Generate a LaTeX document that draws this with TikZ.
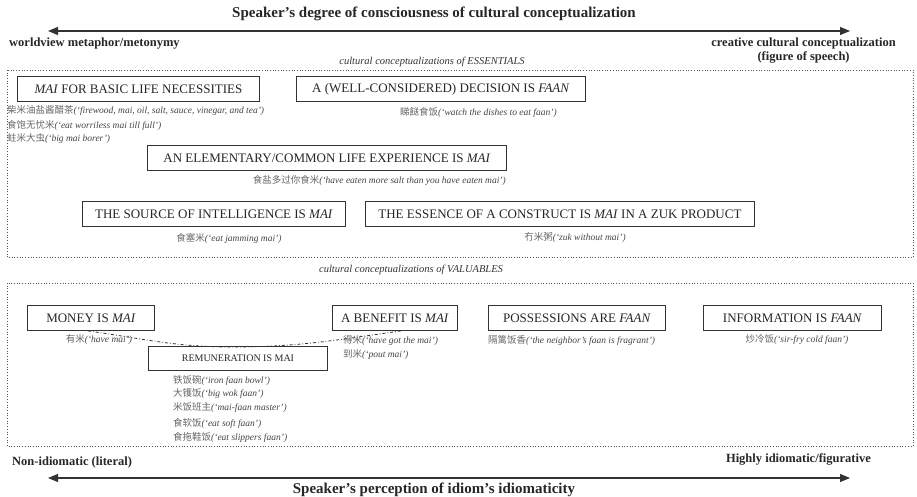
\documentclass[tikz,border=0pt]{standalone}
\usepackage{fontspec}
\setmainfont{Liberation Serif}
\newfontfamily\cjk{Noto Sans CJK SC}
\usetikzlibrary{arrows.meta}
\definecolor{boxline}{HTML}{333333}
\definecolor{exgray}{HTML}{444444}
\definecolor{cjkgray}{HTML}{666666}
\definecolor{dotgray}{HTML}{555555}
\newcommand{\exm}[2]{{\cjk\color{cjkgray}#1}\textit{(‘#2’)}}
\tikzset{
  cbox/.style={draw=boxline, line width=0.9pt, inner sep=0pt, minimum height=25pt, font=\fontsize{13}{15}\selectfont, text=black!85},
  exmp/.style={inner sep=0pt, font=\fontsize{9.5}{11}\selectfont, text=exgray},
  header/.style={inner sep=0pt, font=\fontsize{10.5}{12}\selectfont\itshape, text=black!80},
  bold/.style={inner sep=0pt, font=\fontsize{12.5}{14}\selectfont\bfseries, text=black!85},
  title/.style={inner sep=0pt, font=\fontsize{15}{17}\selectfont\bfseries, text=black!85},
  axis/.style={line width=1.1pt, draw=black!80, {Triangle[length=10pt,width=8pt]}-{Triangle[length=10pt,width=8pt]}},
  dotbox/.style={draw=dotgray, line width=0.7pt, dotted},
  link/.style={draw=black!80, line width=0.8pt, dash dot}
}
\begin{document}
\begin{tikzpicture}[x=1pt,y=-1pt]
\useasboundingbox (0,0) rectangle (917,497);
% top axis
\node[title] (t1) at (434,14) {Speaker’s degree of consciousness of cultural conceptualization};
\coordinate (a1l) at (48,31);
\coordinate (a1r) at (850,31);
\draw[axis] (a1l) -- (a1r);
\node[bold, anchor=west] (wl) at (9,44) {worldview metaphor/metonymy};
\node[bold, anchor=east, align=center] (wr) at (896,51) {creative cultural conceptualization\\(figure of speech)};

% essentials
\node[header] (h1) at (432,62) {cultural conceptualizations of ESSENTIALS};
\draw[dotbox] (7,70) rectangle (913,257);

\node[cbox, minimum width=242pt, anchor=north west] (e1) at (17,76) {\textit{MAI} FOR BASIC LIFE NECESSITIES};
\node[exmp, anchor=west] (e1a) at (7,111) {\exm{柴米油盐酱醋茶}{firewood, mai, oil, salt, sauce, vinegar, and tea}};
\node[exmp, anchor=west] (e1b) at (7,125) {\exm{食饱无忧米}{eat worriless mai till full}};
\node[exmp, anchor=west] (e1c) at (7,139) {\exm{蛀米大虫}{big mai borer}};

\node[cbox, minimum width=289pt, anchor=north west] (e2) at (296,76) {A (WELL-CONSIDERED) DECISION IS \textit{FAAN}};
\node[exmp, anchor=west] (e2a) at (400,112) {\exm{睇餸食饭}{watch the dishes to eat faan}};

\node[cbox, minimum width=359pt, anchor=north west] (e3) at (147,145) {AN ELEMENTARY/COMMON LIFE EXPERIENCE IS \textit{MAI}};
\node[exmp, anchor=east] (e3a) at (506,181) {\exm{食盐多过你食米}{have eaten more salt than you have eaten mai}};

\node[cbox, minimum width=263pt, anchor=north west] (e4) at (82,201) {THE SOURCE OF INTELLIGENCE IS \textit{MAI}};
\node[exmp] (e4a) at (229,238) {\exm{食塞米}{eat jamming mai}};

\node[cbox, minimum width=389pt, anchor=north west] (e5) at (365,201) {THE ESSENCE OF A CONSTRUCT IS \textit{MAI} IN A ZUK PRODUCT};
\node[exmp] (e5a) at (575,238) {\exm{冇米粥}{zuk without mai}};

% valuables
\node[header] (h2) at (411,270) {cultural conceptualizations of VALUABLES};
\draw[dotbox] (7,283) rectangle (913,446);

\node[cbox, minimum width=127pt, anchor=north west] (v1) at (27,305) {MONEY IS \textit{MAI}};
\node[exmp] (v1a) at (99,340) {\exm{有米}{have mai}};

\node[cbox, minimum width=125pt, anchor=north west] (v2) at (332,305) {A BENEFIT IS \textit{MAI}};
\node[exmp, anchor=west] (v2a) at (343,341) {\exm{得米}{have got the mai}};
\node[exmp, anchor=west] (v2b) at (343,355) {\exm{到米}{pout mai}};

\node[cbox, minimum width=177pt, anchor=north west] (v3) at (488,305) {POSSESSIONS ARE \textit{FAAN}};
\node[exmp, anchor=west] (v3a) at (488,340) {\exm{隔篱饭香}{the neighbor’s faan is fragrant}};

\node[cbox, minimum width=178pt, anchor=north west] (v4) at (703,305) {INFORMATION IS \textit{FAAN}};
\node[exmp] (v4a) at (797,340) {\exm{炒冷饭}{sir-fry cold faan}};

\node[cbox, minimum width=179pt, minimum height=24pt, font=\fontsize{10}{12}\selectfont, anchor=north west] (r) at (148,346) {REMUNERATION IS MAI};
\node[exmp, anchor=west] (ra) at (173,380) {\exm{铁饭碗}{iron faan bowl}};
\node[exmp, anchor=west] (rb) at (173,394) {\exm{大镬饭}{big wok faan}};
\node[exmp, anchor=west] (rc) at (173,408) {\exm{米饭班主}{mai-faan master}};
\node[exmp, anchor=west] (rd) at (173,423) {\exm{食软饭}{eat soft faan}};
\node[exmp, anchor=west] (re) at (173,437) {\exm{食拖鞋饭}{eat slippers faan}};

\draw[link] ([xshift=-3pt]v1.south) to[out=-8,in=180] ([xshift=-6pt,yshift=-1pt]r.north) to[out=0,in=188] ([xshift=6pt]v2.south);

% bottom axis
\node[bold, anchor=west] (bl) at (12,462) {Non-idiomatic (literal)};
\node[bold, anchor=east] (br) at (871,459) {Highly idiomatic/figurative};
\coordinate (a2l) at (48,478);
\coordinate (a2r) at (850,478);
\draw[axis] (a2l) -- (a2r);
\node[title] (t2) at (434,490) {Speaker’s perception of idiom’s idiomaticity};
\end{tikzpicture}
\end{document}
